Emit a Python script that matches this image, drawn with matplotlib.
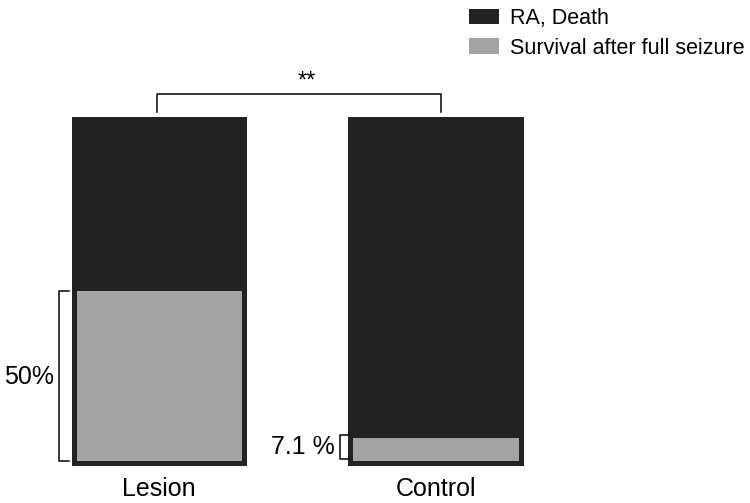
import matplotlib.pyplot as plt
from matplotlib.patches import Patch

plt.rcParams['font.family'] = ['Liberation Sans', 'DejaVu Sans']

# Data
groups = ['Lesion', 'Control']
survival = [50.0, 7.1]          # % survival after full seizure
death = [100 - v for v in survival]  # % RA, Death
survival_labels = ['50%', '7.1 %']
legend_labels = ['RA, Death', 'Survival after full seizure']

dark = '#232323'
gray = '#a3a3a3'

fig = plt.figure(figsize=(7.5, 5.03), dpi=100)
ax = fig.add_axes([0, 0, 1, 1])
ax.set_xlim(-0.574, 2.134)
ax.set_ylim(-11.77, 134.45)
ax.axis('off')

x = [0, 1.0]
width = 0.617

# stacked bars, no edges, then one outline on top
ax.bar(x, survival, width, color=gray, linewidth=0)
ax.bar(x, death, width, bottom=survival, color=dark, linewidth=0)
ax.bar(x, [100, 100], width, facecolor='none', edgecolor=dark, linewidth=3.6)

# group labels
for xi, g in zip(x, groups):
    ax.text(xi, -7.6, g, ha='center', va='center', fontsize=18)

# brackets on the left of the survival segments
lw = 1.1
ax.plot([-0.325, -0.361, -0.361, -0.325], [0.5, 0.5, 50, 50], color='black', lw=lw)
ax.text(-0.379, 25, survival_labels[0], ha='right', va='center', fontsize=18)

ax.plot([0.686, 0.653, 0.653, 0.686], [1.0, 1.0, 8.0, 8.0], color='black', lw=lw)
ax.text(0.635, 4.5, survival_labels[1], ha='right', va='center', fontsize=18)

# significance bracket
ax.plot([-0.008, -0.008, 1.02, 1.02], [101.9, 107.0, 107.0, 101.9], color='black', lw=lw)
ax.text(0.534, 107.6, '**', ha='center', va='bottom', fontsize=17)

# legend
handles = [Patch(facecolor=dark, edgecolor='none'), Patch(facecolor=gray, edgecolor='none')]
fig.legend(handles, legend_labels, loc='upper left', bbox_to_anchor=(469 / 750, 1 - 8 / 503),
           frameon=False, fontsize=15.5, handlelength=1.4, handleheight=0.75,
           handletextpad=0.5, labelspacing=0.4, borderpad=0, borderaxespad=0)

fig.savefig('out.png', dpi=100)
